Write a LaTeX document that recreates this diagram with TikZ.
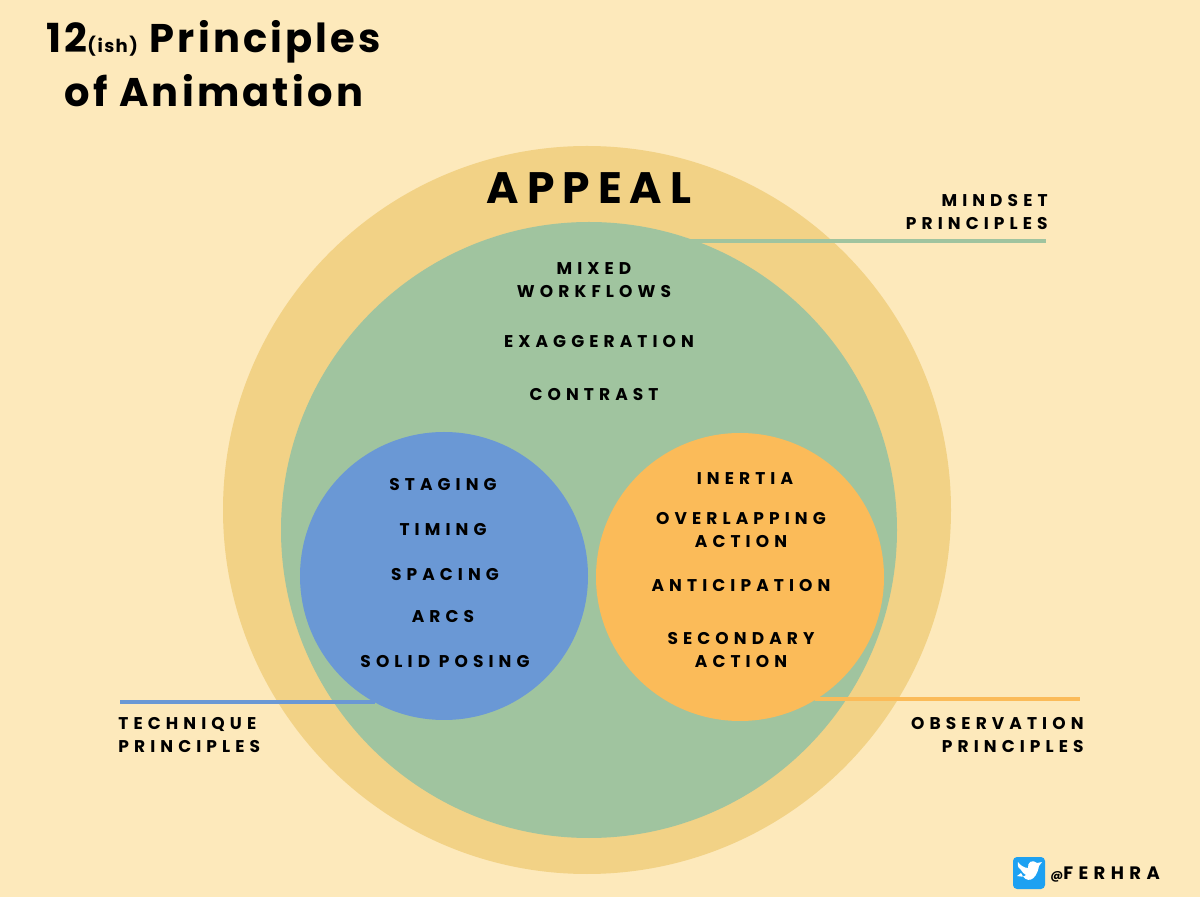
\documentclass[tikz,border=0pt]{standalone}
\usepackage{fontspec}
\setmainfont{Poppins}
\newfontfamily\lab[LetterSpace=30]{Poppins}
\newfontfamily\ttl[LetterSpace=8]{Poppins}
\newfontfamily\apl[LetterSpace=18]{Poppins}
\definecolor{bg}{HTML}{FDE9BB}
\definecolor{outer}{HTML}{F2D286}
\definecolor{grn}{HTML}{A0C49F}
\definecolor{blu}{HTML}{6A98D5}
\definecolor{org}{HTML}{FBBB59}
\definecolor{tw}{HTML}{1DA1F2}
\tikzset{lb/.style={font=\lab\bfseries\fontsize{8.5}{11.5}\selectfont,align=center,text=black,inner sep=0pt},
 conn/.style={line width=2pt}}
\begin{document}
\begin{tikzpicture}[x=0.5pt,y=-0.5pt]
\fill[bg] (0,0) rectangle (1200,897);
\useasboundingbox (0,0) rectangle (1200,897);
\node[circle,fill=outer,minimum size=728*0.5pt,inner sep=0] (outer) at (587,510) {};
\node[circle,fill=grn,minimum size=616*0.5pt,inner sep=0] (green) at (589,530) {};
\node[circle,fill=blu,minimum size=288*0.5pt,inner sep=0] (blue) at (444,576) {};
\node[circle,fill=org,minimum size=288*0.5pt,inner sep=0] (orange) at (740,577) {};
% lines
\coordinate (m1) at (690,241); \coordinate (m2) at (1046,241);
\draw[conn,grn] (m1) -- (m2);
\coordinate (t1) at (120,702); \coordinate (t2) at (375,702);
\draw[conn,blu] (t1) -- (t2);
\coordinate (o1) at (815,699); \coordinate (o2) at (1080,699);
\draw[conn,org] (o1) -- (o2);
% title
\node[anchor=west,inner sep=0,font=\ttl\bfseries\fontsize{20}{24}\selectfont] (t1txt) at (46,42) {12{\fontsize{9}{10}\selectfont(ish)} Principles};
\node[anchor=west,inner sep=0,font=\ttl\bfseries\fontsize{20}{24}\selectfont] (t2txt) at (64,91) {of Animation};
\node[font=\apl\bfseries\fontsize{22}{26}\selectfont,inner sep=0] (appeal) at (589,188) {APPEAL};
\node[lb,align=right,anchor=east] (mind) at (1048,212) {MINDSET\\PRINCIPLES};
\node[lb,align=left,anchor=west] (tech) at (118,735) {TECHNIQUE\\PRINCIPLES};
\node[lb,align=right,anchor=east] (obs) at (1084,735) {OBSERVATION\\PRINCIPLES};
\node[lb] (mw) at (594,280) {MIXED\\WORKFLOWS};
\node[lb] (ex) at (599,342) {EXAGGERATION};
\node[lb] (co) at (594,395) {CONTRAST};
\node[lb] (st) at (443,485) {STAGING};
\node[lb] (ti) at (443,530) {TIMING};
\node[lb] (sp) at (445,575) {SPACING};
\node[lb] (ar) at (443,617) {ARCS};
\node[lb] (so) at (445,662) {SOLID POSING};
\node[lb] (in) at (745,479) {INERTIA};
\node[lb] (ov) at (741,530) {OVERLAPPING\\ACTION};
\node[lb] (an) at (741,586) {ANTICIPATION};
\node[lb] (se) at (741,650) {SECONDARY\\ACTION};
% twitter
\node[fill=tw,rounded corners=2pt,minimum size=16pt,inner sep=0] (twi) at (1029,873) {};
\fill[white] (1021,873) .. controls (1026,884) and (1036,882) .. (1039,866) -- (1042,862) -- (1037,863) .. controls (1033,859) and (1027,862) .. (1028,868) .. controls (1024,868) and (1020,865) .. (1018,862) .. controls (1017,866) and (1019,869) .. (1021,870) .. controls (1022,872) and (1024,874) .. (1026,875) .. controls (1024,877) and (1020,877) .. (1017,876) -- cycle;
\node[lb,anchor=west,font=\lab\bfseries\fontsize{9}{11}\selectfont] (fer) at (1050,875) {{\fontsize{6}{7}\selectfont @}FERHRA};
\end{tikzpicture}
\end{document}
